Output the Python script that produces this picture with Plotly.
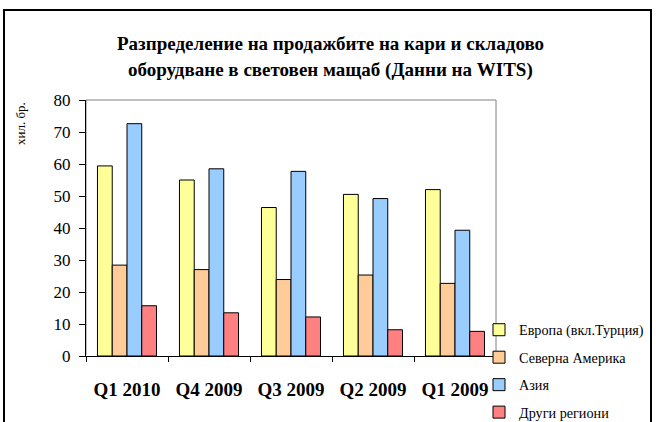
import plotly.graph_objects as go

categories = ["Q1 2010", "Q4 2009", "Q3 2009", "Q2 2009", "Q1 2009"]
series_names = ["Европа (вкл.Турция)", "Северна Америка", "Азия", "Други региони"]
europe = [59.4, 55.0, 46.4, 50.5, 52.0]
north_america = [28.4, 27.0, 23.9, 25.3, 22.7]
asia = [72.6, 58.5, 57.7, 49.2, 39.3]
other = [15.7, 13.5, 12.2, 8.2, 7.7]
colors = ["#FFFF99", "#FFCC99", "#99CCFF", "#FF8080"]
y_ticks = [0, 10, 20, 30, 40, 50, 60, 70, 80]

FONT = "Liberation Serif"
W, H = 656, 422
L, R, T, B = 86, 160, 100, 66
PW = W - L - R
PH = H - T - B

def xp(px):
    return (px - L) / PW

def yp(py):
    return (H - B - py) / PH

fig = go.Figure()
for i, (name, vals) in enumerate(zip(series_names, [europe, north_america, asia, other])):
    fig.add_trace(go.Bar(
        x=categories, y=vals, name=name,
        marker=dict(color=colors[i], line=dict(color="black", width=1)),
        legendgroup=str(i),
    ))

fig.update_layout(
    width=W, height=H,
    margin=dict(l=L, r=R, t=T, b=B, autoexpand=False),
    paper_bgcolor="white", plot_bgcolor="white",
    barmode="group", bargap=0.28, bargroupgap=0,
    font=dict(family=FONT, color="black"),
    showlegend=True,
    legend=dict(xref="container", yref="container", x=479 / W, y=1 - 314 / H,
                xanchor="left", yanchor="top",
                font=dict(family=FONT, size=14.2, color="black"),
                tracegroupgap=6, itemwidth=30, bgcolor="rgba(0,0,0,0)"),
    xaxis=dict(showline=True, linecolor="black", linewidth=1,
               ticks="outside", tickson="boundaries", ticklen=5, tickcolor="black",
               tickfont=dict(family=FONT, size=19, color="black", weight="bold"),
               ticklabelstandoff=16, showgrid=False),
    yaxis=dict(range=[0, 80], tickvals=y_ticks, showline=True, linecolor="black", linewidth=1,
               ticks="outside", ticklen=6, tickcolor="black", showgrid=False,
               ticklabelstandoff=5,
               tickfont=dict(family=FONT, size=17, color="black")),
)

# plot area border (gray top/right)
fig.add_shape(type="rect", xref="paper", yref="paper", x0=0, y0=0, x1=1, y1=1,
              line=dict(color="#808080", width=1), layer="below")
# outer chart frame
fig.add_shape(type="rect", xref="paper", yref="paper", x0=xp(4), y0=yp(440), x1=xp(651), y1=yp(10),
              line=dict(color="black", width=2), layer="below")

fig.add_annotation(text="<b>Разпределение на продажбите на кари и складово</b>",
                   xref="paper", yref="paper", x=xp(330), y=yp(43), showarrow=False,
                   xanchor="center", yanchor="middle", font=dict(family=FONT, size=19, color="black"))
fig.add_annotation(text="<b>оборудване в световен мащаб (Данни на WITS)</b>",
                   xref="paper", yref="paper", x=xp(330), y=yp(70), showarrow=False,
                   xanchor="center", yanchor="middle", font=dict(family=FONT, size=19, color="black"))
fig.add_annotation(text="хил. бр.", textangle=-90, xref="paper", yref="paper",
                   x=xp(20), y=yp(124), showarrow=False, xanchor="center", yanchor="middle",
                   font=dict(family=FONT, size=13, color="black"))

fig.write_html("out.html", config={"displayModeBar": False},
               post_script="document.body.style.margin='0';document.body.style.overflow='hidden';")
